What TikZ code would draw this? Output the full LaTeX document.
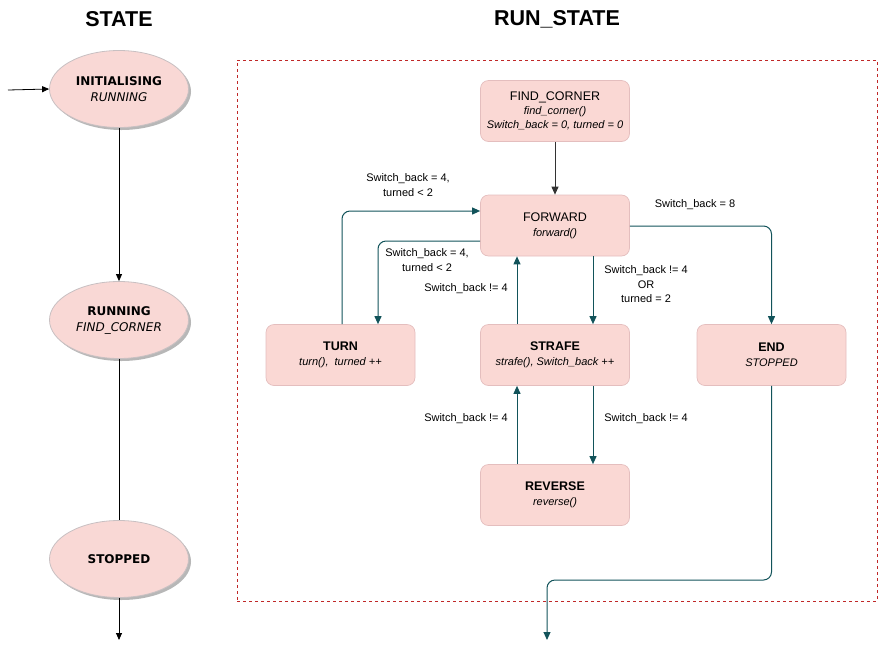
\documentclass[tikz,border=0pt]{standalone}
\usepackage{fontspec}
\setmainfont{Liberation Sans}
\newfontfamily\verd{DejaVu Sans}
\usetikzlibrary{shapes.geometric,arrows.meta,shadows}
\definecolor{teal2}{RGB}{18,83,90}
\definecolor{boxfill}{RGB}{250,216,212}
\definecolor{boxline}{RGB}{228,190,190}
\definecolor{ellfill}{RGB}{249,216,213}
\definecolor{ellline}{RGB}{200,192,194}
\definecolor{frame}{RGB}{192,40,40}
\begin{document}
\begin{tikzpicture}[x=1pt,y=-1pt,
  title/.style={font=\fontsize{21.5}{24}\selectfont\bfseries},
  ellstate/.style={ellipse,fill=ellfill,draw=ellline,line width=0.8pt,minimum width=139pt,minimum height=77pt,inner sep=0pt,align=center,
    font=\verd\fontsize{12}{16}\selectfont,
    drop shadow={shadow xshift=2.5pt,shadow yshift=-2.5pt,fill=black!40,opacity=0.7}},
  stbox/.style={rectangle,rounded corners=8pt,fill=boxfill,draw=boxline,line width=0.7pt,minimum width=149pt,minimum height=61pt,inner sep=2pt,align=center,
    font=\fontsize{12.5}{16}\selectfont},
  lbl/.style={align=center,font=\fontsize{11}{15}\selectfont,inner sep=1pt},
  blk/.style={draw=black,line width=0.8pt,-{Triangle[length=7pt,width=6pt]}},
  tarr/.style={draw=teal2,line width=1pt,rounded corners=8pt,-{Triangle[length=8pt,width=7pt]}},
  tline/.style={draw=teal2,line width=1pt,rounded corners=8pt}]
\useasboundingbox (0,0) rectangle (879,649);

% titles
\node[title] (t1) at (119,19) {STATE};
\node[title] (t2) at (557,19) {RUN\_STATE};

% state ellipses
\node[ellstate] (init) at (119,89) {\textbf{INITIALISING}\\{\itshape RUNNING}};
\node[ellstate] (run) at (119,320) {\textbf{RUNNING}\\{\itshape FIND\_CORNER}};
\node[ellstate] (stop) at (119,559) {\textbf{STOPPED}};
\coordinate (entry) at (8,90);
\coordinate (exit1) at (119,640);
\draw[blk] (entry) -- (init.west);
\draw[blk] (init.south) -- (run.north);
\draw[black,line width=0.8pt] (run.south) -- (stop.north);
\draw[blk] (stop.south) -- (exit1);

% frame
\node[draw=frame,dashed,line width=0.7pt,minimum width=640pt,minimum height=541pt,inner sep=0pt] (frm) at (557,330.5) {};

% run_state boxes
\node[stbox] (fc) at (555,111) {FIND\_CORNER\\[-2pt]{\fontsize{11}{16}\selectfont\itshape find\_corner()}\\[-2pt]{\fontsize{11}{16}\selectfont\itshape Switch\_back = 0, turned = 0}};
\node[stbox] (fw) at (555,225.5) {FORWARD\\[-1pt]{\fontsize{11}{16}\selectfont\itshape forward()}};
\node[stbox] (tu) at (340.5,355) {\textbf{TURN}\\[-1pt]{\fontsize{11}{16}\selectfont\itshape turn(),\ \ turned ++}};
\node[stbox] (sf) at (555,355) {\textbf{STRAFE}\\[-1pt]{\fontsize{11}{16}\selectfont\itshape strafe(), Switch\_back ++}};
\node[stbox] (en) at (771.5,355) {\textbf{END}\\[-1pt]{\fontsize{11}{16}\selectfont\itshape STOPPED}};
\node[stbox] (rv) at (555,495) {\textbf{REVERSE}\\[-1pt]{\fontsize{11}{16}\selectfont\itshape reverse()}};

% connectors
\draw[draw=black!80,line width=1pt,-{Triangle[length=8pt,width=7pt]}] (fc.south) -- (fw.north);
\draw[tarr] (tu.north -| 342,0) |- (fw.west |- 0,211);
\draw[tarr] (fw.west |- 0,241) -| (tu.north -| 378,0);
\draw[tarr] (sf.north -| 517,0) -- (fw.south -| 517,0);
\draw[tarr] (fw.south -| 593,0) -- (sf.north -| 593,0);
\draw[tarr] (fw.east |- 0,226) -| (en.north);
\draw[tarr] (rv.north -| 517,0) -- (sf.south -| 517,0);
\draw[tarr] (sf.south -| 593,0) -- (rv.north -| 593,0);
\coordinate (exit2) at (547,640);
\draw[tarr] (en.south) |- (660,580) -| (exit2);

% labels
\node[lbl] (l1) at (408,185.5) {Switch\_back = 4,\\turned < 2};
\node[lbl] (l2) at (427,260.5) {Switch\_back = 4,\\turned < 2};
\node[lbl] (l3) at (466,289) {Switch\_back != 4};
\node[lbl,font=\fontsize{11}{14.5}\selectfont] (l4) at (646,284.5) {Switch\_back != 4\\OR\\turned = 2};
\node[lbl] (l5) at (695,205) {Switch\_back = 8};
\node[lbl] (l6) at (466,419) {Switch\_back != 4};
\node[lbl] (l7) at (646,419) {Switch\_back != 4};
\end{tikzpicture}
\end{document}
